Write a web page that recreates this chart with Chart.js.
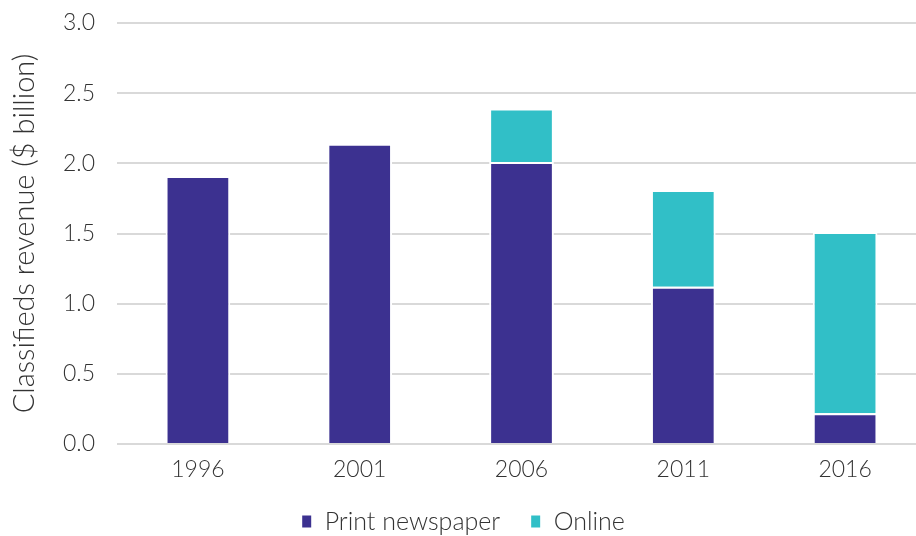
<!DOCTYPE html>
<html>
<head>
<meta charset="utf-8">
<script src="https://cdn.jsdelivr.net/npm/chart.js@4/dist/chart.umd.min.js"></script>
<style>
  html, body { margin: 0; padding: 0; background: #fff; overflow: hidden; }
  #wrap { width: 926px; height: 536px; }
</style>
</head>
<body>
<div id="wrap"><canvas id="chart"></canvas></div>
<script>
const years = ['1996', '2001', '2006', '2011', '2016']
const printNewspaper = [1.91, 2.14, 2.01, 1.12, 0.22]
const online = [0, 0, 0.38, 0.69, 1.29]
const yTicks = [0, 0.5, 1.0, 1.5, 2.0, 2.5, 3.0]

Chart.defaults.font.family = 'Lato'
Chart.defaults.font.weight = '300'
Chart.defaults.color = '#333333'

const ctx = document.getElementById('chart').getContext('2d')

const chart = new Chart(ctx, {
    type: 'bar',
    data: {
        labels: years,
        datasets: [{
            label: 'Print newspaper',
            data: printNewspaper,
            backgroundColor: '#3c3190',
            borderColor: '#ffffff',
            borderWidth: 2,
            borderSkipped: 'bottom',
        }, {
            label: 'Online',
            data: online,
            backgroundColor: '#31bfc7',
            borderColor: '#ffffff',
            borderWidth: 2,
            borderSkipped: 'bottom',
        }]
    },
    options: {
        responsive: true,
        maintainAspectRatio: false,
        animation: false,
        // negative bottom pulls the legend down; y ticks padding is fixed so top = 23px
        layout: { padding: { top: 23, left: 0, right: 0, bottom: -8 } },
        datasets: {
            bar: { categoryPercentage: 1, barPercentage: 0.4 }
        },
        plugins: {
            tooltip: { enabled: false },
            legend: {
                position: 'bottom',
                labels: {
                    boxWidth: 11,
                    boxHeight: 14,
                    padding: 30,
                    color: '#333333',
                    font: { size: 25, weight: '300' }
                }
            }
        },
        scales: {
            x: {
                stacked: true,
                afterFit: scale => { scale.height = 35 },
                grid: { display: false },
                border: { display: false },
                ticks: { padding: 4, font: { size: 23, weight: '300' }, color: '#333333' }
            },
            y: {
                stacked: true,
                min: 0,
                max: 3,
                afterBuildTicks: scale => { scale.ticks = yTicks.map(v => ({ value: v })) },
                afterFit: scale => { scale.width = 117 },
                grid: { color: '#d9d9d9', lineWidth: 2, drawTicks: true, tickLength: 20, tickColor: 'rgba(0,0,0,0)' },
                border: { display: false },
                ticks: {
                    padding: 2,
                    font: { size: 23, weight: '300' },
                    color: '#333333',
                    callback: v => v.toFixed(1)
                },
                title: {
                    display: true,
                    text: 'Classifieds revenue ($ billion)',
                    font: { size: 29, weight: '300' },
                    color: '#333333',
                    padding: { top: 7, bottom: 0 }
                }
            }
        }
    }
})
</script>
</body>
</html>
